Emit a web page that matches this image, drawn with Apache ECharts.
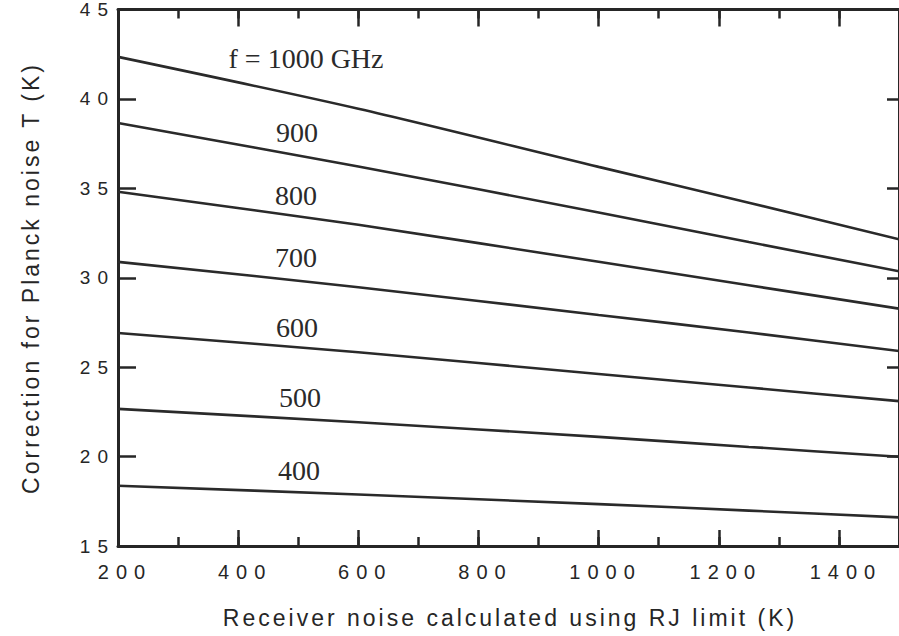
<!DOCTYPE html>
<html>
<head>
<meta charset="utf-8">
<script src="https://cdn.jsdelivr.net/npm/echarts@6/dist/echarts.min.js"></script>
<style>
html, body { margin: 0; padding: 0; background: #ffffff; }
#chart { width: 899px; height: 636px; }
#chart text[style*="Arial"] { letter-spacing: 7px; }
#chart text[style*="Helvetica"] { letter-spacing: 3px; }
</style>
</head>
<body>
<div id="chart"></div>
<script>
// ---- data ----
const rjNoise = [200, 600, 1000, 1250, 1500];           // receiver noise, RJ limit (K)
const frequencies = [1000, 900, 800, 700, 600, 500, 400]; // GHz
const corr1000 = [42.35, 39.45, 36.2, 34.2, 32.15];
const corr900  = [38.65, 36.22, 33.65, 32.0, 30.36];
const corr800  = [34.81, 32.96, 30.89, 29.58, 28.27];
const corr700  = [30.89, 29.47, 27.92, 26.94, 25.9];
const corr600  = [26.91, 25.83, 24.62, 23.86, 23.1];
const corr500  = [22.67, 21.92, 21.10, 20.54, 19.99];
const corr400  = [18.37, 17.88, 17.34, 16.98, 16.6];
const curveLabels = ['f = 1000 GHz', '900', '800', '700', '600', '500', '400'];
const xTitle = 'Receiver noise calculated using RJ limit (K)';
const yTitle = 'Correction for Planck noise T (K)';

const allCurves = [corr1000, corr900, corr800, corr700, corr600, corr500, corr400];
// label anchor positions (pixels)
const labelPos = [[306, 58], [297, 132], [296, 195], [296, 257], [297, 327], [300, 397], [299, 470]];

const ink = '#262626';
const chart = echarts.init(document.getElementById('chart'), null, { renderer: 'svg' });

const xCommon = { type: 'value', min: 200, max: 1500, splitLine: { show: false } };
const tickStyle = { color: ink, width: 2.5 };

const option = {
  backgroundColor: '#ffffff',
  animation: false,
  grid: { left: 118, top: 9, width: 786, height: 537, show: false },
  xAxis: [
    Object.assign({}, xCommon, {
      position: 'bottom', interval: 200,
      axisLine: { show: true, onZero: false, lineStyle: { color: ink, width: 3 } },
      axisTick: { show: true, inside: true, length: 16, lineStyle: tickStyle },
      axisLabel: {
        show: true, showMaxLabel: false, margin: 16, padding: [0, 0, 0, 14],
        fontFamily: "'Liberation Sans', Arial", fontSize: 20, color: ink,
        formatter: (v) => String(v)
      }
    }),
    Object.assign({}, xCommon, {
      position: 'bottom', interval: 100,
      axisLine: { show: false, onZero: false },
      axisTick: { show: true, inside: true, length: 9, lineStyle: tickStyle },
      axisLabel: { show: false }
    }),
    Object.assign({}, xCommon, {
      position: 'top', interval: 200,
      axisLine: { show: true, onZero: false, lineStyle: { color: ink, width: 3 } },
      axisTick: { show: true, inside: true, length: 17, lineStyle: tickStyle },
      axisLabel: { show: false }
    }),
    Object.assign({}, xCommon, {
      position: 'top', interval: 100,
      axisLine: { show: false, onZero: false },
      axisTick: { show: true, inside: true, length: 9, lineStyle: tickStyle },
      axisLabel: { show: false }
    })
  ],
  yAxis: [
    {
      type: 'value', min: 15, max: 45, interval: 5, position: 'left',
      splitLine: { show: false },
      axisLine: { show: true, onZero: false, lineStyle: { color: ink, width: 3 } },
      axisTick: { show: true, inside: true, length: 18, lineStyle: tickStyle },
      axisLabel: {
        show: true, margin: 3,
        fontFamily: "'Liberation Sans', Arial", fontSize: 19, color: ink,
        formatter: (v) => String(v)
      }
    },
    {
      type: 'value', min: 15, max: 45, interval: 5, position: 'right',
      splitLine: { show: false },
      axisLine: { show: true, onZero: false, lineStyle: { color: ink, width: 3 } },
      axisTick: { show: true, inside: true, length: 12, lineStyle: tickStyle },
      axisLabel: { show: false }
    }
  ],
  series: allCurves.map((vals, i) => ({
    type: 'line',
    name: String(frequencies[i]),
    xAxisIndex: 0, yAxisIndex: 0,
    showSymbol: false,
    smooth: 0.3,
    lineStyle: { color: '#2a2a2a', width: 2.6 },
    data: rjNoise.map((x, j) => [x, vals[j]])
  })),
  graphic: [
    {
      type: 'text', x: 510, y: 618,
      style: {
        text: xTitle, textAlign: 'center', textVerticalAlign: 'middle',
        font: "23px 'Liberation Sans', Helvetica", fill: ink
      }
    },
    {
      type: 'text', x: 31, y: 278, rotation: Math.PI / 2,
      style: {
        text: yTitle, textAlign: 'center', textVerticalAlign: 'middle',
        font: "23px 'Liberation Sans', Helvetica", fill: ink
      }
    }
  ].concat(curveLabels.map((t, i) => ({
    type: 'text', x: labelPos[i][0], y: labelPos[i][1], z: 10,
    style: {
      text: t, textAlign: 'center', textVerticalAlign: 'middle',
      font: "28px 'Liberation Serif', 'Times New Roman', serif", fill: '#2a2a2a'
    }
  })))
};

chart.setOption(option);
</script>
</body>
</html>
